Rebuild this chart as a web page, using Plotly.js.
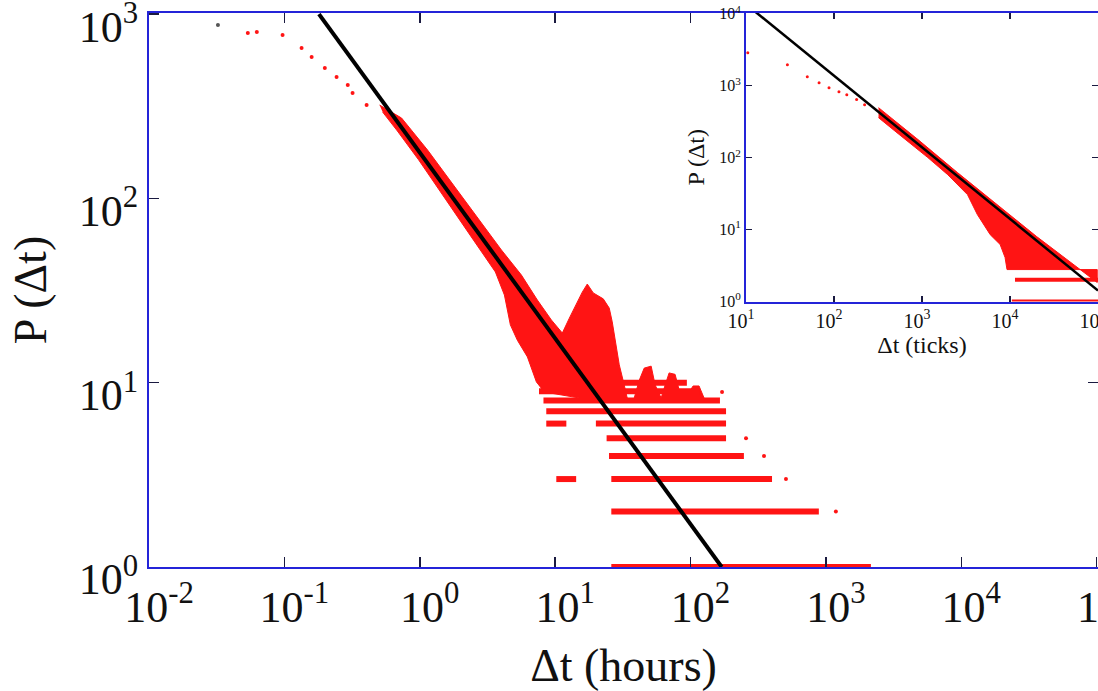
<!DOCTYPE html>
<html>
<head>
<meta charset="utf-8">
<script src="https://cdn.plot.ly/plotly-3.0.1.min.js"></script>
<style>
  html, body { margin: 0; padding: 0; background: #ffffff; }
  #chart { width: 1098px; height: 691px; }
</style>
</head>
<body>
<div id="chart"></div>
<script>
// ---------- Main panel: P(Δt) vs Δt (hours) ----------
// sparse points at small Δt and isolated points at the end of the bands
const mainDotsX = [0.0537, 0.0626, 0.097, 0.134, 0.159, 0.199, 0.243, 0.294, 0.319, 0.405, 1185, 507, 349, 257, 171];
const mainDotsY = [789, 800, 770, 655, 585, 510, 456, 412, 373, 321, 2, 3, 4, 5, 8.9];
const greyDotX = [0.0323];
const greyDotY = [873];

// outline of the dense cloud along the fit line, including the hump near 20 h
const cloudX = [0.505, 0.734, 1.142, 1.776, 2.669, 4.011, 5.632, 7.39, 9.38, 11.3, 12.73, 14.33, 15.87, 17.28, 19.13, 22.68, 25.1, 26.41, 27.8, 29.76, 32.38, 34.07, 15.09, 8.325, 7.27, 6.79, 6.24, 5.26, 4.67, 4.22, 3.62, 2.49, 1.576, 0.98, 0.675, 0.532];
const cloudY = [321, 273, 183, 118, 78.3, 52.5, 38.4, 28.1, 21.9, 18.6, 22.4, 26.7, 31.0, 34.3, 30.7, 28.5, 25.4, 21.4, 17.0, 12.5, 9.72, 8.26, 8.26, 8.9, 10.1, 11.7, 13.8, 17.0, 20.6, 29.9, 39.9, 59.5, 98.0, 162, 235, 294];

// comb of peaks around 40-120 h
const combX = [38.4, 41.8, 45.5, 51.2, 54.8, 60.7, 65.0, 69.5, 76.9, 82.4, 97.7, 104.5, 115.6, 125.9];
const combY = [8.26, 10.3, 12.0, 12.3, 9.72, 8.26, 9.72, 11.3, 11.1, 9.13, 8.9, 9.6, 9.6, 8.26];

// horizontal bands at small integer counts
const bandLevels = [1, 2, 3, 3, 4, 5, 6, 6, 7, 8, 9, 10];
const bandStarts = [26, 26, 26, 10.2, 25, 24, 20, 8.6, 8.6, 8.2, 7.6, 7.6];
const bandEnds   = [2150, 887, 400, 14.3, 248, 183, 183, 12.1, 183, 165, 116, 94];

// fitted power law (end points)
const fitX = [0.18, 170];
const fitY = [1000, 1];

// ---------- Inset: P(Δt) vs Δt (ticks) ----------
const insetDotsX = [10.5, 29.6, 49.8, 67.8, 87.9, 114, 140, 181, 223];
const insetDotsY = [2870, 1950, 1334, 1100, 936, 826, 750, 640, 545];

const insetCloudX = [321, 902, 2535, 7145, 20090, 98000, 98000, 9250, 8790, 7730, 5960, 4256, 3290, 1960, 1167, 537, 321];
const insetCloudY = [495, 178, 61.9, 22.2, 8.0, 1.84, 2.78, 2.78, 4.1, 6.2, 8.5, 16.2, 30.6, 58, 100, 215, 359];

const insetBandLevels = [1, 2];
const insetBandStarts = [10500, 11400];
const insetBandEnds   = [100000, 100000];

const insetFitX = [10, 100000];
const insetFitY = [13600, 1.42];

// tick exponents
const mainXTickExp  = [-2, -1, 0, 1, 2, 3, 4, 5];
const mainYTickExp  = [0, 1, 2, 3];
const insetXTickExp = [1, 2, 3, 4, 5];
const insetYTickExp = [0, 1, 2, 3, 4];

// ---------- helpers ----------
function bandsXY(levels, starts, ends) {
  const x = [], y = [];
  for (let i = 0; i < levels.length; i++) {
    x.push(starts[i], ends[i], null);
    y.push(levels[i], levels[i], null);
  }
  return {x, y};
}
const vals = exps => exps.map(e => Math.pow(10, e));
const labs = exps => exps.map(e => '10<sup>' + e + '</sup>');

const RED = '#ff1414';
const BLUE = '#2424d8';
const FONT = 'Liberation Serif, "Times New Roman", serif';

const mb = bandsXY(bandLevels, bandStarts, bandEnds);
const ib = bandsXY(insetBandLevels, insetBandStarts, insetBandEnds);

const traces = [
  {x: cloudX, y: cloudY, type: 'scatter', mode: 'lines', fill: 'toself', fillcolor: RED,
   line: {color: RED, width: 1}, xaxis: 'x', yaxis: 'y'},
  {x: combX, y: combY, type: 'scatter', mode: 'lines', fill: 'toself', fillcolor: RED,
   line: {color: RED, width: 1}, xaxis: 'x', yaxis: 'y'},
  {x: mb.x, y: mb.y, type: 'scatter', mode: 'lines', connectgaps: false,
   line: {color: RED, width: 6}, xaxis: 'x', yaxis: 'y'},
  {x: mainDotsX, y: mainDotsY, type: 'scatter', mode: 'markers',
   marker: {color: RED, size: 4}, xaxis: 'x', yaxis: 'y'},
  {x: greyDotX, y: greyDotY, type: 'scatter', mode: 'markers',
   marker: {color: '#555555', size: 4}, xaxis: 'x', yaxis: 'y'},
  {x: fitX, y: fitY, type: 'scatter', mode: 'lines',
   line: {color: '#000000', width: 4}, xaxis: 'x', yaxis: 'y'},

  {x: insetCloudX, y: insetCloudY, type: 'scatter', mode: 'lines', fill: 'toself', fillcolor: RED,
   line: {color: RED, width: 1}, xaxis: 'x2', yaxis: 'y2'},
  {x: ib.x, y: ib.y, type: 'scatter', mode: 'lines', connectgaps: false,
   line: {color: RED, width: 4}, xaxis: 'x2', yaxis: 'y2'},
  {x: insetDotsX, y: insetDotsY, type: 'scatter', mode: 'markers',
   marker: {color: RED, size: 3}, xaxis: 'x2', yaxis: 'y2'},
  {x: insetFitX, y: insetFitY, type: 'scatter', mode: 'lines',
   line: {color: '#000000', width: 2.5}, xaxis: 'x2', yaxis: 'y2'}
];

const axisCommon = {
  type: 'log', showgrid: false, zeroline: false, showline: true,
  linecolor: BLUE, linewidth: 2, mirror: 'ticks', ticks: 'inside',
  tickcolor: '#1a1a40', tickmode: 'array', automargin: false,
  ticklabeloverflow: 'allow'
};

const layout = {
  width: 1098, height: 691,
  margin: {l: 149, r: 0, t: 13, b: 124},
  paper_bgcolor: '#ffffff', plot_bgcolor: '#ffffff',
  showlegend: false,
  font: {family: FONT, color: '#111111'},
  xaxis: Object.assign({}, axisCommon, {
    domain: [0, 1], range: [-2, 5.01], anchor: 'y',
    tickvals: vals(mainXTickExp), ticktext: labs(mainXTickExp),
    ticklabelshift: 10,
    ticklen: 10, tickwidth: 1.5, tickfont: {size: 44, family: FONT, color: '#111'},
    title: {text: 'Δt (hours)', font: {size: 46, family: FONT, color: '#111'}, standoff: 22}
  }),
  yaxis: Object.assign({}, axisCommon, {
    domain: [0, 1], range: [0, 3.006], anchor: 'x',
    tickvals: vals(mainYTickExp), ticktext: labs(mainYTickExp),
    ticklabelshift: 12,
    ticklen: 10, tickwidth: 1.5, tickfont: {size: 44, family: FONT, color: '#111'},
    title: {text: 'P (Δt)', font: {size: 46, family: FONT, color: '#111'}, standoff: 18}
  }),
  xaxis2: Object.assign({}, axisCommon, {
    domain: [0.629, 1], range: [1, 5.0], anchor: 'y2',
    tickvals: vals(insetXTickExp), ticktext: labs(insetXTickExp),
    ticklabelshift: -5,
    ticklen: 6, tickwidth: 1.5, tickfont: {size: 20, family: FONT, color: '#111'},
    title: {text: 'Δt (ticks)', font: {size: 24, family: FONT, color: '#111'}, standoff: 0}
  }),
  yaxis2: Object.assign({}, axisCommon, {
    domain: [0.4792, 1], range: [0, 4.01], anchor: 'x2',
    tickvals: vals(insetYTickExp), ticktext: labs(insetYTickExp),
    ticklen: 6, tickwidth: 1.5, tickfont: {size: 16, family: FONT, color: '#111'},
    title: {text: 'P (Δt)', font: {size: 24, family: FONT, color: '#111'}, standoff: 8}
  })
};

Plotly.newPlot('chart', traces, layout, {staticPlot: true, displayModeBar: false});
</script>
</body>
</html>
